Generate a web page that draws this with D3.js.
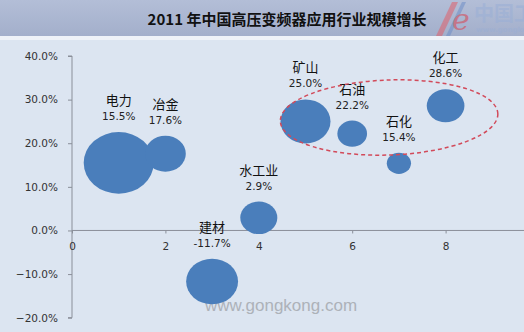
<!DOCTYPE html>
<html>
<head>
<meta charset="utf-8">
<script src="https://cdn.jsdelivr.net/npm/d3@7"></script>
<style>
  body { margin: 0; background: #dce5f1; overflow: hidden; }
  svg { display: block; }
</style>
</head>
<body>
<script>
// industries, x position, growth rate and bubble size
const names = ['电力', '冶金', '建材', '水工业', '矿山', '石油', '石化', '化工'];
const xVals = [1, 2, 3, 4, 5, 6, 7, 8];
const growth = [0.155, 0.176, -0.117, 0.029, 0.250, 0.222, 0.154, 0.286];
const sizes = [100, 34, 55, 28, 51, 18, 12, 29];
const growthLabels = ['15.5%', '17.6%', '-11.7%', '2.9%', '25.0%', '22.2%', '15.4%', '28.6%'];

const yTicks = [-0.2, -0.1, 0, 0.1, 0.2, 0.3, 0.4];
const xTicks = [0, 2, 4, 6, 8];

const W = 524, H = 332;
const cjk = '"Noto Sans CJK SC", "Noto Sans", sans-serif';
const num = '"DejaVu Sans", Verdana, sans-serif';

let svg = d3.select('body').append('svg')
    .attr('width', W)
    .attr('height', H);

let defs = svg.append('defs');
let grad = defs.append('linearGradient').attr('id', 'head').attr('x1', 0).attr('x2', 0).attr('y1', 0).attr('y2', 1);
grad.append('stop').attr('offset', '0%').attr('stop-color', '#b3bed7');
grad.append('stop').attr('offset', '100%').attr('stop-color', '#a3afcb');

// background + header band
svg.append('rect').attr('width', W).attr('height', H).attr('fill', '#dce5f1');
svg.append('rect').attr('y', 36).attr('width', W).attr('height', 4).attr('fill', '#eef2f8');
svg.append('rect').attr('width', W).attr('height', 36).attr('fill', 'url(#head)');

// logo in the corner (faded)
let logo = svg.append('g').attr('opacity', 0.55);
logo.append('path').attr('d', 'M436,36 L452,2 L458,2 L442,36 Z').attr('fill', '#e0606a');
logo.append('path').attr('d', 'M446,36 L462,2 L466,2 L450,36 Z').attr('fill', '#6f8fc8');
logo.append('text').attr('x', 452).attr('y', 30).text('e')
    .style('font-family', '"DejaVu Serif", serif').style('font-style', 'italic')
    .style('font-size', '30px').style('fill', '#d9434f');
logo.append('text').attr('x', 474).attr('y', 21).text('中国工')
    .style('font-family', cjk).style('font-weight', 'bold')
    .style('font-size', '20px').style('fill', '#9aafd6');
logo.append('text').attr('x', 476).attr('y', 32).text('www.gongkong')
    .style('font-family', num).style('font-weight', 'bold')
    .style('font-size', '7px').style('fill', '#9aafd6');

svg.append('text')
    .attr('x', 287).attr('y', 25)
    .attr('text-anchor', 'middle')
    .text('2011 年中国高压变频器应用行业规模增长')
    .style('font-family', cjk).style('font-weight', 'bold')
    .style('font-size', '15px').style('fill', '#111');

let x = d3.scaleLinear().domain([0, 10]).range([72, 539]);
let y = d3.scaleLinear().domain([-0.2, 0.4]).range([317.7, 56]);
let r = d3.scaleSqrt().domain([0, 100]).range([0, 35]);

// y axis at x = 0
let yAxis = svg.append('g')
    .attr('transform', `translate(${x(0)},0)`)
    .call(d3.axisLeft(y).tickValues(yTicks).tickSize(4).tickPadding(10).tickFormat(d3.format('.1%')));
yAxis.select('.domain').attr('stroke', '#8a8f99').attr('d', `M-4,${y(0.4)}H0V${y(-0.2)}H-4`);
yAxis.selectAll('.tick line').attr('stroke', '#8a8f99');
yAxis.selectAll('.tick text').style('font-family', num).style('font-size', '10.5px').style('fill', '#333');

// x axis crossing at y = 0
let xAxis = svg.append('g')
    .attr('transform', `translate(0,${y(0)})`)
    .call(d3.axisBottom(x).tickValues(xTicks).tickSize(3).tickPadding(9).tickFormat(d3.format('d')));
xAxis.select('.domain').attr('stroke', '#8a8f99').attr('d', `M${x(0)},0H${x(10)}`);
xAxis.selectAll('.tick line').attr('stroke', '#8a8f99');
xAxis.selectAll('.tick text').style('font-family', num).style('font-size', '10.5px').style('fill', '#333');

// watermark
svg.append('text')
    .attr('x', 281).attr('y', 311)
    .attr('text-anchor', 'middle')
    .text('www.gongkong.com')
    .style('font-family', '"Liberation Sans", Arial, sans-serif')
    .style('font-size', '17px').style('fill', '#a9adb4').style('opacity', 0.9);

let data = names.map((n, i) => ({ name: n, x: xVals[i], y: growth[i], s: sizes[i], label: growthLabels[i] }));

let bubbles = svg.append('g').selectAll('g')
    .data(data)
    .enter()
    .append('g');

bubbles.append('ellipse')
    .attr('cx', d => x(d.x))
    .attr('cy', d => y(d.y))
    .attr('rx', d => r(d.s))
    .attr('ry', d => r(d.s) * 0.88)
    .attr('fill', '#4a7ebb');

bubbles.append('text')
    .attr('x', d => x(d.x))
    .attr('y', d => y(d.y) - r(d.s) * 0.88 - 12)
    .attr('text-anchor', 'middle')
    .text(d => d.label)
    .style('font-family', num).style('font-size', '10.5px').style('fill', '#222');

bubbles.append('text')
    .attr('x', d => x(d.x))
    .attr('y', d => y(d.y) - r(d.s) * 0.88 - 27)
    .attr('text-anchor', 'middle')
    .text(d => d.name)
    .style('font-family', cjk).style('font-size', '13px').style('fill', '#111');

// dashed ring around the fast growing group
let ring = { cx: 6.79, cy: 0.259, rx: 2.33, ry: 0.086 };
svg.append('ellipse')
    .attr('cx', x(ring.cx))
    .attr('cy', y(ring.cy))
    .attr('rx', x(ring.cx + ring.rx) - x(ring.cx))
    .attr('ry', y(ring.cy - ring.ry) - y(ring.cy))
    .attr('transform', `rotate(-2,${x(ring.cx)},${y(ring.cy)})`)
    .attr('fill', 'none')
    .attr('stroke', '#d24a5a')
    .attr('stroke-width', 1.5)
    .attr('stroke-dasharray', '4,3');
</script>
</body>
</html>
